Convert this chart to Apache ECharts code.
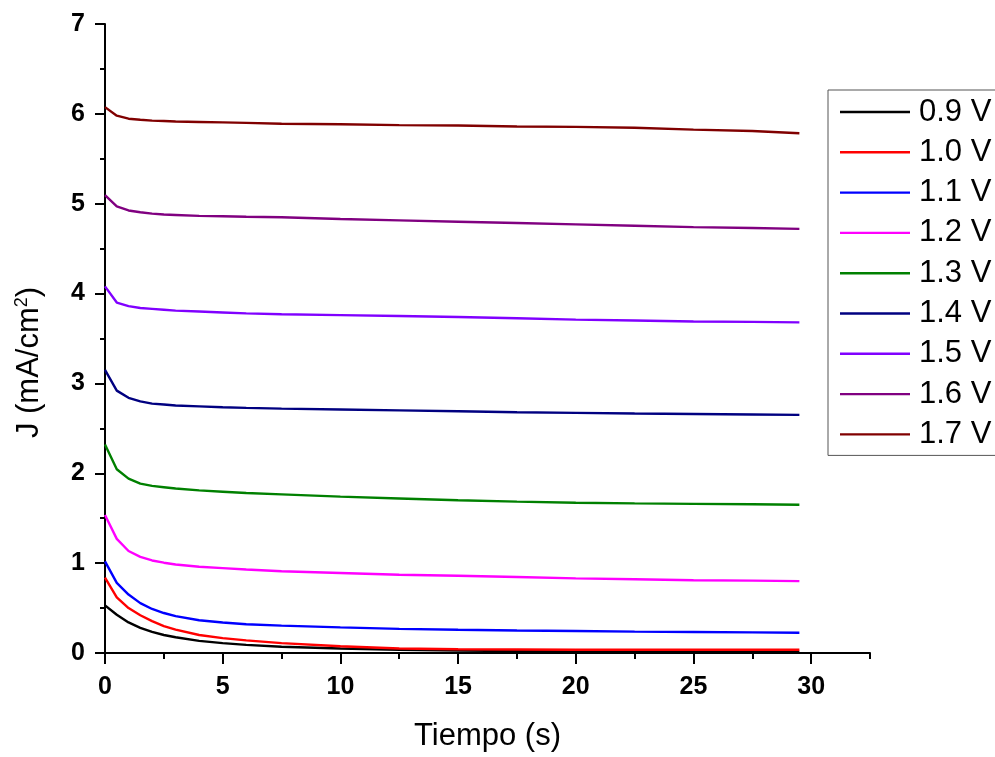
<!DOCTYPE html>
<html>
<head>
<meta charset="utf-8">
<script src="https://cdn.jsdelivr.net/npm/echarts@6/dist/echarts.min.js"></script>
<style>html,body{margin:0;padding:0;background:#fff}#c{width:995px;height:757px}</style>
</head>
<body>
<div id="c"></div>
<script>
var times = [0, 0.5, 1, 1.5, 2, 2.5, 3, 4, 5, 6, 7.5, 10, 12.5, 15, 17.5, 20, 22.5, 25, 27.5, 29.5];
var names = ['0.9 V', '1.0 V', '1.1 V', '1.2 V', '1.3 V', '1.4 V', '1.5 V', '1.6 V', '1.7 V'];
var colors = ['#000000', '#FF0000', '#0000FF', '#FF00FF', '#008000', '#000080', '#8000FF', '#800080', '#800000'];
var v09 = [0.53, 0.425, 0.34, 0.28, 0.235, 0.20, 0.175, 0.135, 0.11, 0.09, 0.07, 0.05, 0.035, 0.028, 0.022, 0.018, 0.015, 0.013, 0.012, 0.011];
var v10 = [0.84, 0.62, 0.50, 0.42, 0.355, 0.30, 0.26, 0.20, 0.165, 0.14, 0.11, 0.075, 0.05, 0.042, 0.039, 0.037, 0.036, 0.036, 0.036, 0.036];
var v11 = [1.02, 0.78, 0.65, 0.555, 0.49, 0.445, 0.41, 0.365, 0.34, 0.32, 0.305, 0.285, 0.268, 0.258, 0.25, 0.244, 0.238, 0.233, 0.229, 0.226];
var v12 = [1.535, 1.27, 1.135, 1.07, 1.03, 1.005, 0.985, 0.96, 0.945, 0.93, 0.91, 0.89, 0.87, 0.86, 0.845, 0.83, 0.82, 0.81, 0.805, 0.80];
var v13 = [2.32, 2.045, 1.94, 1.885, 1.86, 1.845, 1.83, 1.81, 1.795, 1.78, 1.765, 1.74, 1.72, 1.70, 1.685, 1.672, 1.665, 1.66, 1.655, 1.65];
var v14 = [3.15, 2.92, 2.84, 2.80, 2.775, 2.765, 2.755, 2.745, 2.735, 2.728, 2.72, 2.71, 2.70, 2.69, 2.68, 2.672, 2.665, 2.66, 2.655, 2.65];
var v15 = [4.08, 3.90, 3.86, 3.84, 3.83, 3.82, 3.81, 3.80, 3.79, 3.78, 3.77, 3.76, 3.75, 3.74, 3.725, 3.71, 3.70, 3.69, 3.685, 3.68];
var v16 = [5.095, 4.97, 4.925, 4.905, 4.89, 4.88, 4.875, 4.865, 4.86, 4.855, 4.85, 4.83, 4.815, 4.80, 4.785, 4.77, 4.755, 4.74, 4.73, 4.72];
var v17 = [6.075, 5.98, 5.946, 5.935, 5.925, 5.92, 5.915, 5.91, 5.905, 5.90, 5.89, 5.885, 5.875, 5.87, 5.86, 5.855, 5.845, 5.825, 5.81, 5.785];
var xMajorTicks = [0, 5, 10, 15, 20, 25, 30];

var allValues = [v09, v10, v11, v12, v13, v14, v15, v16, v17];
var FONT = 'Arial, "Liberation Sans", sans-serif';

var series = names.map(function (n, i) {
  return {
    name: n,
    type: 'line',
    xAxisIndex: 0,
    yAxisIndex: 0,
    symbol: 'none',
    showSymbol: false,
    smooth: false,
    color: colors[i],
    lineStyle: { width: 2.4, color: colors[i] },
    data: times.map(function (t, k) { return [t, allValues[i][k]]; })
  };
});

var chart = echarts.init(document.getElementById('c'), null, { renderer: 'canvas' });
chart.setOption({
  animation: false,
  backgroundColor: '#ffffff',
  grid: { left: 105, top: 24, right: 125, bottom: 102, containLabel: false },
  legend: {
    orient: 'vertical',
    left: 828,
    top: 90,
    padding: [3, 12, 2, 12],
    icon: 'rect',
    itemWidth: 70,
    itemHeight: 2.4,
    itemGap: 2.3,
    borderColor: '#555555',
    borderWidth: 1,
    backgroundColor: '#ffffff',
    data: names,
    textStyle: { fontFamily: FONT, fontSize: 31, lineHeight: 38, color: '#000', padding: [0, 0, 0, 4] }
  },
  xAxis: [{
    type: 'value',
    min: 0, max: 32.5, interval: 2.5,
    name: 'Tiempo (s)',
    nameLocation: 'middle',
    nameGap: 68,
    nameTextStyle: { fontFamily: FONT, fontSize: 31, color: '#000' },
    axisLine: { show: true, onZero: false, lineStyle: { color: '#000', width: 2 } },
    axisTick: { show: true, length: 6, lineStyle: { color: '#000', width: 2 } },
    axisLabel: {
      fontFamily: FONT, fontSize: 25, fontWeight: 'bold', color: '#000', margin: 22,
      formatter: function (v) { return (Math.abs(v % 5) < 1e-9 && v <= 30) ? String(v) : ''; }
    },
    splitLine: { show: false }
  }, {
    type: 'value',
    min: 0, max: 32.5, interval: 2.5,
    position: 'bottom',
    axisLine: { show: false, onZero: false },
    axisTick: { show: true, length: 11, customValues: xMajorTicks, lineStyle: { color: '#000', width: 2 } },
    axisLabel: { show: false },
    splitLine: { show: false }
  }],
  yAxis: {
    type: 'value',
    min: 0, max: 7, interval: 1,
    name: 'J (mA/cm{sup|2})',
    nameLocation: 'middle',
    nameGap: 60,
    nameRotate: 90,
    nameTextStyle: {
      fontFamily: FONT, fontSize: 31, color: '#000', padding: [0, 48, 0, 0],
      rich: { sup: { fontFamily: FONT, fontSize: 18, color: '#000', verticalAlign: 'top', padding: [0, 0, 14, 0] } }
    },
    axisLine: { show: true, onZero: false, lineStyle: { color: '#000', width: 2 } },
    axisTick: { show: true, length: 10, lineStyle: { color: '#000', width: 2 } },
    minorTick: { show: true, splitNumber: 2, length: 5, lineStyle: { color: '#000', width: 2 } },
    axisLabel: { fontFamily: FONT, fontSize: 25, fontWeight: 'bold', color: '#000', margin: 20 },
    splitLine: { show: false },
    minorSplitLine: { show: false }
  },
  series: series
});
</script>
</body>
</html>
